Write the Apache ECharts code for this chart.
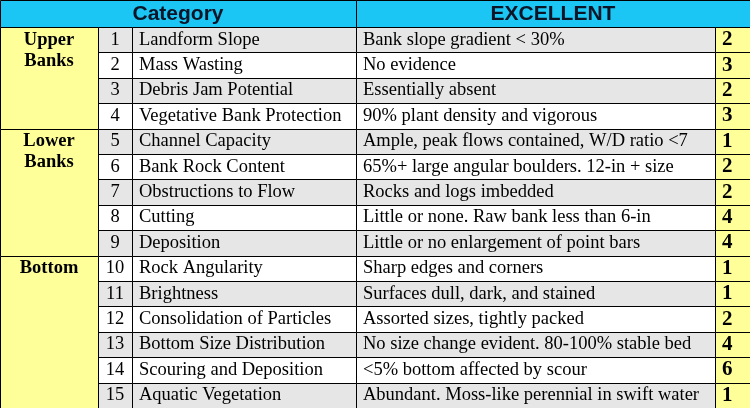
<!DOCTYPE html>
<html>
<head>
<meta charset="utf-8">
<style>
  html, body { margin: 0; padding: 0; background: #fff; }
  #chart { width: 750px; height: 408px; }
</style>
<script src="https://cdn.jsdelivr.net/npm/echarts@6/dist/echarts.min.js"></script>
</head>
<body>
<div id="chart"></div>
<script>
// Table content
const headers = ['Category', 'EXCELLENT'];
const groups = ['Upper\nBanks', 'Lower\nBanks', 'Bottom'];
const groupSizes = [4, 5, 6];
const factors = [
  'Landform Slope', 'Mass Wasting', 'Debris Jam Potential', 'Vegetative Bank Protection',
  'Channel Capacity', 'Bank Rock Content', 'Obstructions to Flow', 'Cutting', 'Deposition',
  'Rock Angularity', 'Brightness', 'Consolidation of Particles', 'Bottom Size Distribution',
  'Scouring and Deposition', 'Aquatic Vegetation'
];
const conditions = [
  'Bank slope gradient < 30%',
  'No evidence',
  'Essentially absent',
  '90% plant density and vigorous',
  'Ample, peak flows contained, W/D ratio <7',
  '65%+ large angular boulders. 12-in + size',
  'Rocks and logs imbedded',
  'Little or none. Raw bank less than 6-in',
  'Little or no enlargement of point bars',
  'Sharp edges and corners',
  'Surfaces dull, dark, and stained',
  'Assorted sizes, tightly packed',
  'No size change evident. 80-100% stable bed',
  '<5% bottom affected by scour',
  'Abundant. Moss-like perennial in swift water'
];
const scores = [2, 3, 2, 3, 1, 2, 2, 4, 4, 1, 1, 2, 4, 6, 1];

// Layout (column edges on a 0..750 x scale, rows are 1 unit each)
const COL_EDGES = [0, 98, 132, 356, 715, 750];
const HEAD_ROWS = 27 / 25.4;
const PAD = 7;
const BLUE = '#1cc6f4';
const YELLOW = '#ffff99';
const GRAY = '#e6e6e6';
const SERIF = '"Liberation Serif", "Times New Roman", serif';
const SANS = '"Liberation Sans", Arial, sans-serif';

const crisp = (v) => Math.round(v) + 0.5;

function cellRect(api, c0, c1, r0, r1, fill) {
  const p0 = api.coord([COL_EDGES[c0], r0]);
  const p1 = api.coord([COL_EDGES[c1], r1]);
  const x = crisp(p0[0]), y = crisp(p0[1]);
  return {
    type: 'rect',
    shape: { x, y, width: crisp(p1[0]) - x, height: crisp(p1[1]) - y },
    style: { fill, stroke: '#000', lineWidth: 1 }
  };
}

function cellText(api, col, r0, r1, text, font, align) {
  const left = api.coord([COL_EDGES[col], r0]);
  const right = api.coord([COL_EDGES[col + 1], r1]);
  const x = align === 'center' ? (left[0] + right[0]) / 2 : left[0] + PAD;
  return {
    type: 'text',
    style: {
      text, x, y: (left[1] + right[1]) / 2,
      fill: '#000', font, align, verticalAlign: 'middle'
    }
  };
}

// group spans [firstRow, lastRow+1, groupIndex]
const groupData = [];
let start = 0;
groupSizes.forEach((n, i) => { groupData.push([start, start + n, i]); start += n; });

const rowData = factors.map((_, i) => [i]);
const headerData = [[0, 3, 0], [3, 5, 1]];

const chart = echarts.init(document.getElementById('chart'));
chart.setOption({
  animation: false,
  grid: { left: 0, right: 0, top: 0, bottom: 0 },
  xAxis: { type: 'value', min: 0, max: 750, show: false },
  yAxis: { type: 'value', min: -HEAD_ROWS, max: factors.length, inverse: true, show: false },
  series: [
    {
      type: 'custom',
      silent: true,
      clip: false,
      data: headerData,
      renderItem(params, api) {
        const c0 = api.value(0), c1 = api.value(1);
        const label = headers[api.value(2)];
        const rect = cellRect(api, c0, c1, -HEAD_ROWS, 0, BLUE);
        const a = api.coord([COL_EDGES[c0], -HEAD_ROWS]);
        const b = api.coord([COL_EDGES[c1], 0]);
        return {
          type: 'group',
          children: [rect, {
            type: 'text',
            style: {
              text: label, x: (a[0] + b[0]) / 2, y: (a[1] + b[1]) / 2 + 1,
              fill: '#0a1628', font: 'bold 21px ' + SANS,
              align: 'center', verticalAlign: 'middle'
            }
          }]
        };
      }
    },
    {
      type: 'custom',
      silent: true,
      clip: false,
      data: rowData,
      renderItem(params, api) {
        const r = api.value(0);
        const fill = r % 2 === 0 ? GRAY : '#fff';
        const font = '18.5px ' + SERIF;
        return {
          type: 'group',
          children: [
            cellRect(api, 1, 2, r, r + 1, fill),
            cellRect(api, 2, 3, r, r + 1, fill),
            cellRect(api, 3, 4, r, r + 1, fill),
            cellRect(api, 4, 5, r, r + 1, YELLOW),
            cellText(api, 1, r, r + 1, String(r + 1), font, 'center'),
            cellText(api, 2, r, r + 1, factors[r], font, 'left'),
            cellText(api, 3, r, r + 1, conditions[r], font, 'left'),
            cellText(api, 4, r, r + 1, String(scores[r]), 'bold 21px ' + SERIF, 'left')
          ]
        };
      }
    },
    {
      type: 'custom',
      silent: true,
      clip: false,
      data: groupData,
      renderItem(params, api) {
        const r0 = api.value(0), r1 = api.value(1);
        const a = api.coord([COL_EDGES[0], r0]);
        const b = api.coord([COL_EDGES[1], r0 + 1]);
        return {
          type: 'group',
          children: [
            cellRect(api, 0, 1, r0, r1, YELLOW),
            {
              type: 'text',
              style: {
                text: groups[api.value(2)],
                x: (a[0] + b[0]) / 2, y: a[1] + 2.5,
                fill: '#000', font: 'bold 18.5px ' + SERIF,
                lineHeight: 21, align: 'center', verticalAlign: 'top'
              }
            }
          ]
        };
      }
    }
  ]
});
</script>
</body>
</html>
